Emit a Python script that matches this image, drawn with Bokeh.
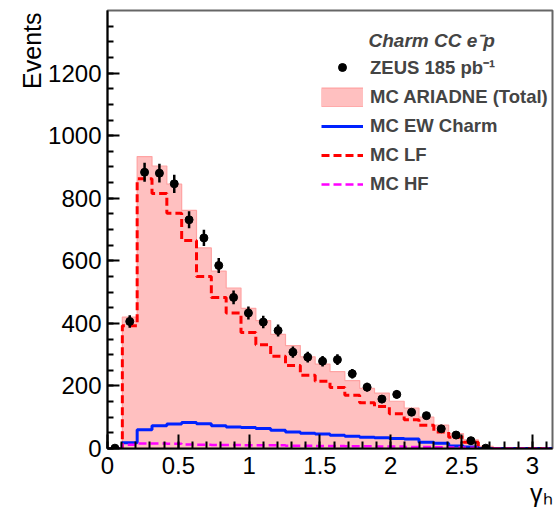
import numpy as np
from bokeh.plotting import figure
from bokeh.models import (Range1d, FixedTicker, CustomJSTickFormatter, Label,
                          Legend, LegendItem, ColumnDataSource, Title)
from bokeh.embed import file_html
from bokeh.resources import INLINE

# ---------------- data ----------------
n_bins = 30
x_max = np.pi
edges = np.linspace(0.0, x_max, n_bins + 1)

# ZEUS data, bins 0..25
data_counts = [1, 406, 883, 880, 846, 731, 673, 585, 483, 433, 404, 377, 308,
               292, 279, 284, 239, 196, 158, 173, 116, 105, 63, 43, 25, 1]
data_errors = [1, 20, 30, 30, 29, 27, 26, 24, 22, 21, 20, 19, 18, 17, 17, 17,
               15, 14, 13, 13, 11, 10, 8, 7, 5, 1]

# MC histograms, bins 0..29
mc_total = [0, 420, 933, 903, 845, 761, 641, 567, 513, 448, 409, 365, 329, 293,
            270, 246, 217, 192, 177, 151, 129, 100, 75, 48, 28, 7, 0, 0, 0, 0]
mc_lf = [0, 392, 862, 815, 752, 665, 550, 483, 433, 371, 332, 295, 265, 234,
         215, 195, 170, 146, 134, 111, 92, 74, 53, 36, 20, 6, 0, 0, 0, 0]
mc_ew = [0, 18, 60, 73, 78, 83, 79, 73, 69, 67, 64, 58, 53, 49, 46, 42, 39, 36,
         34, 32, 30, 20, 17, 8, 5, 0, 0, 0, 0, 0]
mc_hf = [0, 12, 16, 16, 15, 13, 12, 11, 11, 10, 10, 10, 9, 9, 8, 8, 7, 7, 6, 6,
         5, 5, 4, 3, 2, 1, 0, 0, 0, 0]

x_ticks = [0, 0.5, 1, 1.5, 2, 2.5, 3]
x_minor = [round(0.1 * i, 1) for i in range(32)]
y_ticks = [0, 200, 400, 600, 800, 1000, 1200]
y_minor = [50 * i for i in range(28)]
y_max = 1400

FONT = "Liberation Sans"

# ---------------- figure ----------------
p = figure(width=556, height=521, output_backend="svg", toolbar_location=None,
           x_range=Range1d(0, x_max), y_range=Range1d(0, y_max),
           min_border_left=107, min_border_right=4, min_border_top=10,
           min_border_bottom=73)
p.xgrid.visible = False
p.ygrid.visible = False
p.outline_line_color = "#666666"
p.outline_line_width = 2
p.background_fill_color = "white"
p.border_fill_color = "white"

for ax in (p.xaxis[0], p.yaxis[0]):
    ax.axis_line_color = "black"
    ax.axis_line_width = 2
    ax.major_tick_line_color = "black"
    ax.minor_tick_line_color = "black"
    ax.major_tick_line_width = 2
    ax.minor_tick_line_width = 2
    ax.major_tick_out = 0
    ax.minor_tick_out = 0
    ax.major_label_text_font = FONT
    ax.major_label_text_font_size = "24px"
    ax.major_label_text_color = "black"

p.xaxis[0].ticker = FixedTicker(ticks=x_ticks, minor_ticks=x_minor)
p.yaxis[0].ticker = FixedTicker(ticks=y_ticks, minor_ticks=y_minor)
p.xaxis[0].formatter = CustomJSTickFormatter(code="return String(Math.round(tick*10)/10)")
p.yaxis[0].formatter = CustomJSTickFormatter(code="return String(Math.round(tick))")
p.xaxis[0].major_tick_in = 14
p.xaxis[0].minor_tick_in = 7
p.yaxis[0].major_tick_in = 12
p.yaxis[0].minor_tick_in = 6
p.xaxis[0].major_label_standoff = 8
p.yaxis[0].major_label_standoff = 6

# ---------------- glyphs ----------------
def step_y(vals):
    return list(vals) + [vals[-1]]

pink_fill = "#ffc0c0"
pink_line = "#ffa3a3"

p.varea_step(x=edges, y1=np.zeros(n_bins + 1), y2=step_y(mc_total),
             step_mode="after", fill_color=pink_fill)
p.step(x=edges, y=step_y(mc_total), mode="after", line_color=pink_line,
       line_width=1.2)

r_ew = p.step(x=edges, y=step_y(mc_ew), mode="after", line_color="#0022ff",
              line_width=3)
r_lf = p.step(x=edges, y=step_y(mc_lf), mode="after", line_color="#ff0000",
              line_width=3, line_dash="8 4")
r_hf = p.step(x=edges, y=step_y(mc_hf), mode="after", line_color="#ff00ff",
              line_width=2.5, line_dash="8 4")

centers = 0.5 * (edges[:-1] + edges[1:])[:len(data_counts)]
cnt = np.array(data_counts, dtype=float)
err = np.array(data_errors, dtype=float)
p.segment(x0=centers, y0=cnt - err, x1=centers, y1=cnt + err,
          line_color="black", line_width=2.5)
r_data = p.scatter(x=centers, y=cnt, size=8, marker="circle",
                   fill_color="black", line_color="black")

# renderers with no visible points, used only for the legend box of the total
empty = dict(x=[np.nan, np.nan], y=[np.nan, np.nan])
r_box_edge = p.line(x="x", y="y", source=ColumnDataSource(data=dict(empty)),
                    line_color=pink_line, line_width=20)
r_box = p.line(x="x", y="y", source=ColumnDataSource(data=dict(empty)),
               line_color=pink_fill, line_width=17.6)

legend = Legend(items=[
    LegendItem(label="ZEUS 185 pb\u207b\u00b9", renderers=[r_data]),
    LegendItem(label="MC ARIADNE (Total)", renderers=[r_box_edge, r_box]),
    LegendItem(label="MC EW Charm", renderers=[r_ew]),
    LegendItem(label="MC LF", renderers=[r_lf]),
    LegendItem(label="MC HF", renderers=[r_hf]),
], location=(212, 251))
legend.label_text_font = FONT
legend.label_text_font_style = "bold"
legend.label_text_font_size = "18.5px"
legend.glyph_width = 42
legend.glyph_height = 20
legend.label_height = 20
legend.label_standoff = 7
legend.spacing = 7
legend.padding = 2
legend.margin = 0
legend.background_fill_alpha = 0
legend.border_line_alpha = 0
p.add_layout(legend)

# ---------------- texts ----------------
p.add_layout(Label(x=261, y=408, x_units="screen", y_units="screen",
                   text="Charm CC e\u207bp", text_font=FONT,
                   text_font_style="bold italic", text_font_size="19px",
                   text_baseline="middle", text_align="left"))

p.add_layout(Title(text="Events", align="right", text_font=FONT,
                   text_font_size="25px", text_font_style="normal",
                   text_color="black", offset=2, standoff=0), "left")

p.add_layout(Title(text="\u03b3\u2095", align="right", text_font=FONT,
                   text_font_size="25px", text_font_style="normal",
                   text_color="black", offset=0, standoff=0), "below")

open("out.html", "w").write(file_html(p, INLINE))
